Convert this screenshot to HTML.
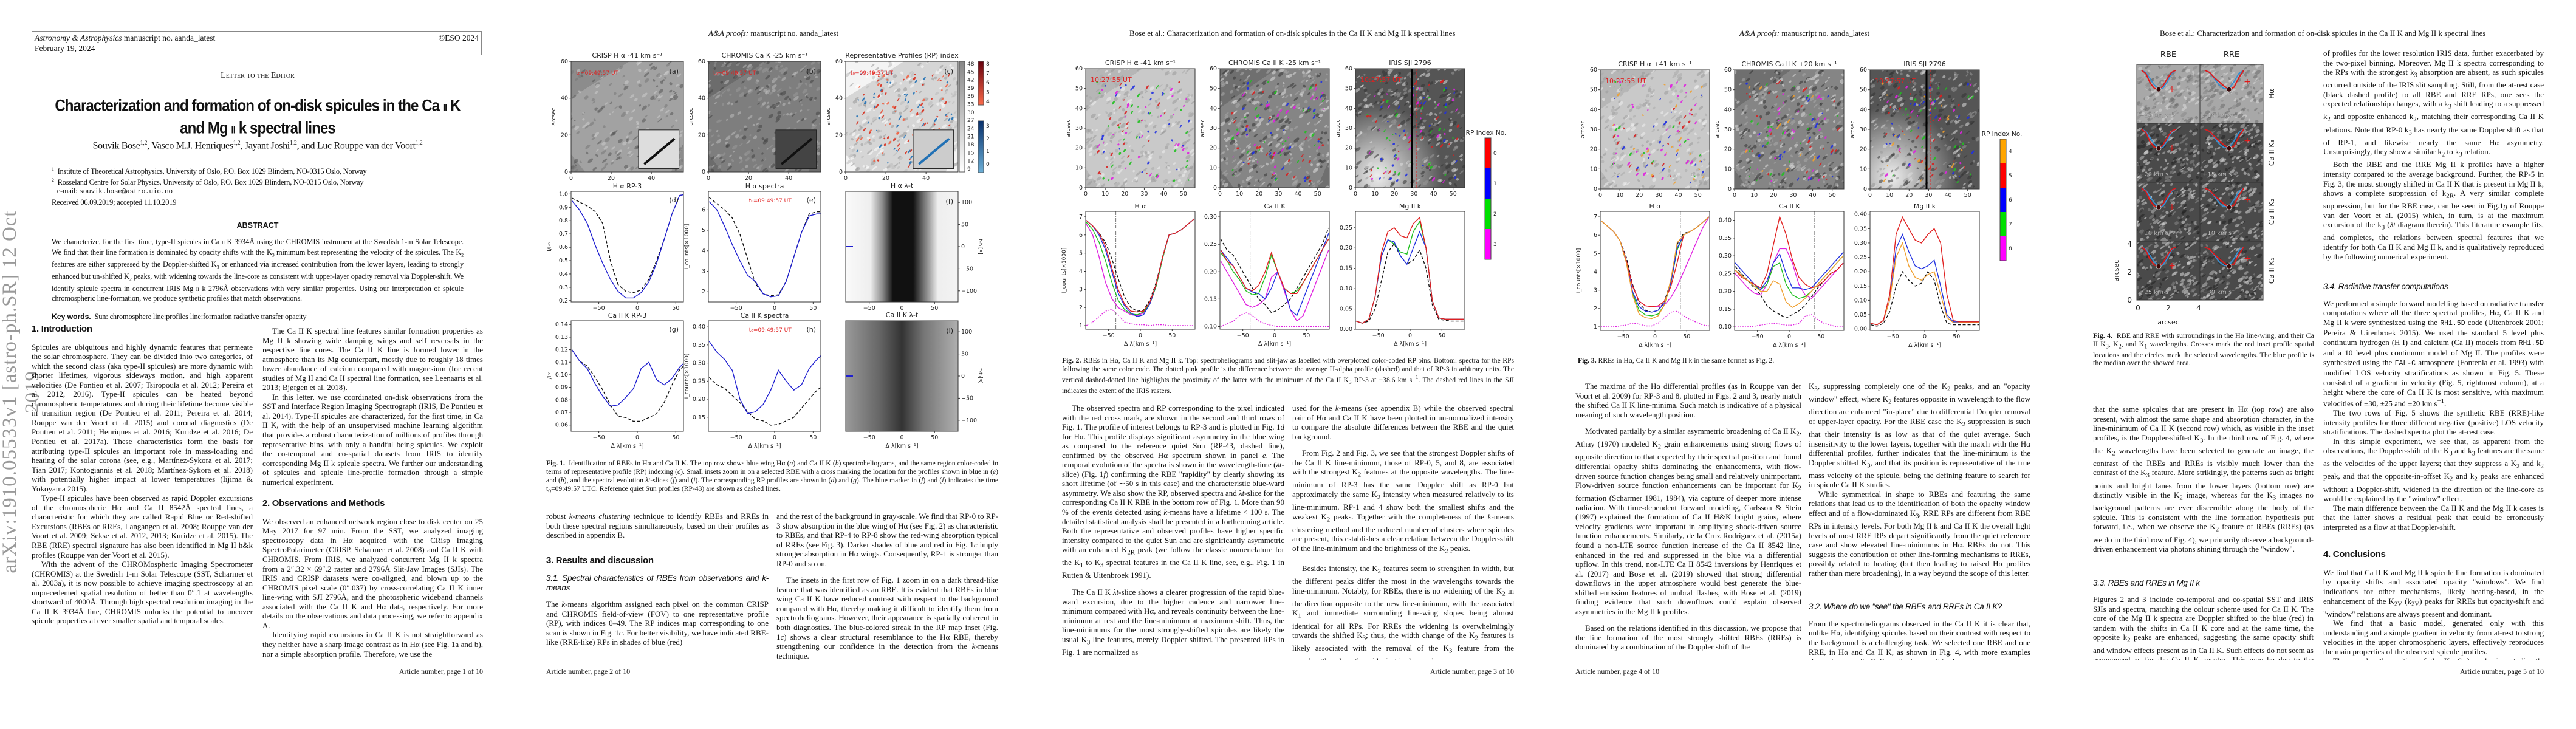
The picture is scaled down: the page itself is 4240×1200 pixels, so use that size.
<!DOCTYPE html>
<html><head><meta charset="utf-8">
<style>
body{margin:0;width:4240px;height:1200px;position:relative;background:#fff;overflow:hidden;font-family:"Liberation Serif",serif;color:#111}
.a{position:absolute}
.col{position:absolute;font-size:13px;line-height:15.55px;text-align:justify;overflow:hidden;hyphens:auto}
.col p{margin:0;text-indent:16px}
.col p.ni{text-indent:0}
.h1{font-family:"Liberation Sans",sans-serif;font-weight:bold;font-size:15px;text-indent:0;margin:20px 0 14px 0;letter-spacing:-0.3px}
.h2{font-family:"Liberation Sans",sans-serif;font-style:italic;font-size:13.5px;text-indent:0;margin:18px 0 12px 0;letter-spacing:-0.3px}
.cap{position:absolute;font-size:11.6px;line-height:14px;text-align:justify}
.hdr{position:absolute;font-size:13px;top:47px}
.foot{position:absolute;font-size:12px;top:1098px}
svg text{font-family:"DejaVu Sans",sans-serif}
</style></head>
<body>
<svg id="figs" class="a" style="left:0;top:0" width="4240" height="1200">
<defs>
<linearGradient id="lt1" x1="0" x2="1" y1="0" y2="0">
<stop offset="0" stop-color="#fafafa"/><stop offset="0.22" stop-color="#eee"/><stop offset="0.33" stop-color="#888"/><stop offset="0.42" stop-color="#111"/><stop offset="0.6" stop-color="#111"/><stop offset="0.7" stop-color="#777"/><stop offset="0.82" stop-color="#eee"/><stop offset="1" stop-color="#f4f4f4"/></linearGradient>
<linearGradient id="lt2" x1="0" x2="1" y1="0" y2="0">
<stop offset="0" stop-color="#9a9a9a"/><stop offset="0.3" stop-color="#666"/><stop offset="0.5" stop-color="#333"/><stop offset="0.7" stop-color="#777"/><stop offset="1" stop-color="#b0b0b0"/></linearGradient>
<linearGradient id="gbar" x1="0" x2="0" y1="0" y2="1"><stop offset="0" stop-color="#888"/><stop offset="1" stop-color="#fff"/></linearGradient>
<linearGradient id="redbar" x1="0" x2="0" y1="0" y2="1"><stop offset="0" stop-color="#67000d"/><stop offset="1" stop-color="#fb6a4a"/></linearGradient>
<linearGradient id="bluebar" x1="0" x2="0" y1="0" y2="1"><stop offset="0" stop-color="#08306b"/><stop offset="1" stop-color="#6baed6"/></linearGradient>
<radialGradient id="iris" cx="0.2" cy="0.9" r="0.6"><stop offset="0" stop-color="#eee"/><stop offset="1" stop-color="#555"/></radialGradient>
</defs>
</svg>

<!-- PAGE 1 -->
<div class="a" style="left:52px;top:51px;width:741px;height:40px;border:1px solid #888;font-size:13.5px;line-height:17px;padding:2px 0 0 4px;box-sizing:border-box">
<i>Astronomy &amp; Astrophysics</i> manuscript no. aanda_latest<br>February 19, 2024<span style="position:absolute;right:4px;top:2px">©ESO 2024</span></div>
<div class="a" style="left:0;width:848px;top:117px;text-align:center;font-size:14px;font-variant:small-caps">Letter to the Editor</div>
<div class="a" style="left:40px;width:768px;top:162px;text-align:center;font-family:'Liberation Sans',sans-serif;font-weight:bold;font-size:24px;line-height:30px;letter-spacing:-0.9px;transform:scaleY(1.12)">Characterization and formation of on-disk spicules in the Ca <span style="font-size:15px">II</span> K<br>and Mg <span style="font-size:15px">II</span> k spectral lines</div>
<div class="a" style="left:0;width:848px;top:230px;text-align:center;font-size:16px;letter-spacing:-0.3px">Souvik Bose<sup style="font-size:10px">1,2</sup>, Vasco M.J. Henriques<sup style="font-size:10px">1,2</sup>, Jayant Joshi<sup style="font-size:10px">1,2</sup>, and Luc Rouppe van der Voort<sup style="font-size:10px">1,2</sup></div>
<div class="a" style="left:85px;top:272px;font-size:12.4px;line-height:14.6px;letter-spacing:-0.2px"><sup style="font-size:8px">1</sup>&nbsp; Institute of Theoretical Astrophysics, University of Oslo, P.O. Box 1029 Blindern, NO-0315 Oslo, Norway<br><sup style="font-size:8px">2</sup>&nbsp; Rosseland Centre for Solar Physics, University of Oslo, P.O. Box 1029 Blindern, NO-0315 Oslo, Norway<br>&nbsp;&nbsp;&nbsp;e-mail: <span style="font-family:'Liberation Mono',monospace;font-size:11px">souvik.bose@astro.uio.no</span></div>
<div class="a" style="left:85px;top:326px;font-size:12.4px;letter-spacing:-0.2px">Received 06.09.2019; accepted 11.10.2019</div>
<div class="a" style="left:0;width:848px;top:364px;text-align:center;font-family:'Liberation Sans',sans-serif;font-weight:bold;font-size:12.5px">ABSTRACT</div>
<div class="a" style="left:85px;width:678px;top:391px;font-size:12.4px;line-height:14.6px;text-align:justify;letter-spacing:-0.15px">We characterize, for the first time, type-II spicules in Ca <span style="font-size:8px">II</span> K 3934Å using the CHROMIS instrument at the Swedish 1-m Solar Telescope. We find that their line formation is dominated by opacity shifts with the K<sub style="font-size:8px">3</sub> minimum best representing the velocity of the spicules. The K<sub style="font-size:8px">2</sub> features are either suppressed by the Doppler-shifted K<sub style="font-size:8px">3</sub> or enhanced via increased contribution from the lower layers, leading to strongly enhanced but un-shifted K<sub style="font-size:8px">2</sub> peaks, with widening towards the line-core as consistent with upper-layer opacity removal via Doppler-shift. We identify spicule spectra in concurrent IRIS Mg <span style="font-size:8px">II</span> k 2796Å observations with very similar properties. Using our interpretation of spicule chromospheric line-formation, we produce synthetic profiles that match observations.<br><br><b style="font-family:'Liberation Sans',sans-serif">Key words.</b>&nbsp; Sun: chromosphere line:profiles line:formation radiative transfer opacity</div>
<div class="a" style="left:-290px;top:608px;width:650px;text-align:center;transform:rotate(-90deg);font-size:33px;color:#999;letter-spacing:1px">arXiv:1910.05533v1 [astro-ph.SR] 12 Oct 2019</div>

<div class="col" style="left:52px;top:526px;width:364px;height:560px">
<div class="h1" style="margin-top:8px">1. Introduction</div>
<p class="ni">Spicules are ubiquitous and highly dynamic features that permeate the solar chromosphere. They can be divided into two categories, of which the second class (aka type-II spicules) are more dynamic with shorter lifetimes, vigorous sideways motion, and high apparent velocities (De Pontieu et al. 2007; Tsiropoula et al. 2012; Pereira et al. 2012, 2016). Type-II spicules can be heated beyond chromospheric temperatures and during their lifetime become visible in transition region (De Pontieu et al. 2011; Pereira et al. 2014; Rouppe van der Voort et al. 2015) and coronal diagnostics (De Pontieu et al. 2011; Henriques et al. 2016; Kuridze et al. 2016; De Pontieu et al. 2017a). These characteristics form the basis for attributing type-II spicules an important role in mass-loading and heating of the solar corona (see, e.g., Martínez-Sykora et al. 2017; Tian 2017; Kontogiannis et al. 2018; Martínez-Sykora et al. 2018) with potentially higher impact at lower temperatures (Iijima &amp; Yokoyama 2015).</p>
<p>Type-II spicules have been observed as rapid Doppler excursions of the chromospheric Hα and Ca II 8542Å spectral lines, a characteristic for which they are called Rapid Blue or Red-shifted Excursions (RBEs or RREs, Langangen et al. 2008; Rouppe van der Voort et al. 2009; Sekse et al. 2012, 2013; Kuridze et al. 2015). The RBE (RRE) spectral signature has also been identified in Mg II h&amp;k profiles (Rouppe van der Voort et al. 2015).</p>
<p>With the advent of the CHROMospheric Imaging Spectrometer (CHROMIS) at the Swedish 1-m Solar Telescope (SST, Scharmer et al. 2003a), it is now possible to achieve imaging spectroscopy at an unprecedented spatial resolution of better than 0″.1 at wavelengths shortward of 4000Å. Through high spectral resolution imaging in the Ca II K 3934Å line, CHROMIS unlocks the potential to uncover spicule properties at ever smaller spatial and temporal scales.</p>
</div>
<div class="col" style="left:432px;top:537px;width:363px;height:549px">
<p>The Ca II K spectral line features similar formation properties as Mg II k showing wide damping wings and self reversals in the respective line cores. The Ca II K line is formed lower in the atmosphere than its Mg counterpart, mostly due to roughly 18 times lower abundance of calcium compared with magnesium (for recent studies of Mg II and Ca II spectral line formation, see Leenaarts et al. 2013; Bjørgen et al. 2018).</p>
<p>In this letter, we use coordinated on-disk observations from the SST and Interface Region Imaging Spectrograph (IRIS, De Pontieu et al. 2014). Type-II spicules are characterized, for the first time, in Ca II K, with the help of an unsupervised machine learning algorithm that provides a robust characterization of millions of profiles through representative bins, with only a handful being spicules. We exploit the co-temporal and co-spatial datasets from IRIS to identify corresponding Mg II k spicule spectra. We further our understanding of spicules and spicule line-profile formation through a simple numerical experiment.</p>
<div class="h1">2. Observations and Methods</div>
<p class="ni">We observed an enhanced network region close to disk center on 25 May 2017 for 97 min. From the SST, we analyzed imaging spectroscopy data in Hα acquired with the CRisp Imaging SpectroPolarimeter (CRISP, Scharmer et al. 2008) and Ca II K with CHROMIS. From IRIS, we analyzed concurrent Mg II k spectra from a 2″.32 × 69″.2 raster and 2796Å Slit-Jaw Images (SJIs). The IRIS and CRISP datasets were co-aligned, and blown up to the CHROMIS pixel scale (0″.037) by cross-correlating Ca II K inner line-wing with SJI 2796Å, and the photospheric wideband channels associated with the Ca II K and Hα data, respectively. For more details on the observations and data processing, we refer to appendix A.</p>
<p>Identifying rapid excursions in Ca II K is not straightforward as they neither have a sharp image contrast as in Hα (see Fig. 1a and b), nor a simple absorption profile. Therefore, we use the</p>
</div>
<div class="foot" style="left:600px;width:195px;text-align:right">Article number, page 1 of 10</div>

<!-- PAGE 2 -->
<div class="hdr" style="left:1166px"><i>A&amp;A proofs:</i> manuscript no. aanda_latest</div>
<div class="cap" style="left:899px;top:756px;width:744px"><b>Fig. 1.</b>&nbsp; Identification of RBEs in Hα and Ca II K. The top row shows blue wing Hα (<i>a</i>) and Ca II K (<i>b</i>) spectroheliograms, and the same region color-coded in terms of representative profile (RP) indexing (<i>c</i>). Small insets zoom in on a selected RBE with a cross marking the location for the profiles shown in blue in (<i>e</i>) and (<i>h</i>), and the spectral evolution <i>λt</i>-slices (<i>f</i>) and (<i>i</i>). The corresponding RP profiles are shown in (<i>d</i>) and (<i>g</i>). The blue marker in (<i>f</i>) and (<i>i</i>) indicates the time t<sub>0</sub>=09:49:57 UTC. Reference quiet Sun profiles (RP-43) are shown as dashed lines.</div>
<div class="col" style="left:899px;top:842px;width:366px;height:244px">
<p class="ni">robust <i>k-means clustering</i> technique to identify RBEs and RREs in both these spectral regions simultaneously, based on their profiles as described in appendix B.</p>
<div class="h1" style="margin-top:26px">3. Results and discussion</div>
<div class="h2" style="margin-top:8px">3.1. Spectral characteristics of RBEs from observations and <i>k</i>-means</div>
<p class="ni">The <i>k</i>-means algorithm assigned each pixel on the common CRISP and CHROMIS field-of-view (FOV) to one representative profile (RP), with indices 0–49. The RP indices map corresponding to one scan is shown in Fig. 1<i>c</i>. For better visibility, we have indicated RBE-like (RRE-like) RPs in shades of blue (red)</p>
</div>
<div class="col" style="left:1278px;top:842px;width:365px;height:244px">
<p class="ni">and the rest of the background in gray-scale. We find that RP-0 to RP-3 show absorption in the blue wing of Hα (see Fig. 2) as characteristic to RBEs, and that RP-4 to RP-8 show the red-wing absorption typical of RREs (see Fig. 3). Darker shades of blue and red in Fig. 1<i>c</i> imply stronger absorption in Hα wings. Consequently, RP-1 is stronger than RP-0 and so on.</p>
<p style="margin-top:12px">The insets in the first row of Fig. 1 zoom in on a dark thread-like feature that was identified as an RBE. It is evident that RBEs in blue wing Ca II K have reduced contrast with respect to the background compared with Hα, thereby making it difficult to identify them from spectroheliograms. However, their appearance is spatially coherent in both diagnostics. The blue-colored streak in the RP map inset (Fig. 1<i>c</i>) shows a clear structural resemblance to the Hα RBE, thereby strengthening our confidence in the detection from the <i>k</i>-means technique.</p>
</div>
<div class="foot" style="left:899px">Article number, page 2 of 10</div>

<!-- PAGE 3 -->
<div class="hdr" style="left:1859px">Bose et al.: Characterization and formation of on-disk spicules in the Ca II K and Mg II k spectral lines</div>
<div class="cap" style="left:1748px;top:587px;width:744px"><b>Fig. 2.</b> RBEs in Hα, Ca II K and Mg II k. Top: spectroheliograms and slit-jaw as labelled with overplotted color-coded RP bins. Bottom: spectra for the RPs following the same color code. The dotted pink profile is the difference between the average H-alpha profile (dashed) and that of RP-3 in arbitrary units. The vertical dashed-dotted line highlights the proximity of the latter with the minimum of the Ca II K<sub>3</sub> RP-3 at −38.6 km s<sup>−1</sup>. The dashed red lines in the SJI indicates the extent of the IRIS rasters.</div>
<div class="col" style="left:1748px;top:664px;width:366px;height:422px">
<p>The observed spectra and RP corresponding to the pixel indicated with the red cross mark, are shown in the second and third rows of Fig. 1. The profile of interest belongs to RP-3 and is plotted in Fig. 1<i>d</i> for Hα. This profile displays significant asymmetry in the blue wing as compared to the reference quiet Sun (RP-43, dashed line), confirmed by the observed Hα spectrum shown in panel <i>e</i>. The temporal evolution of the spectra is shown in the wavelength-time (<i>λt</i>-slice) (Fig. 1<i>f</i>) confirming the RBE "rapidity" by clearly showing its short lifetime (of ∼50 s in this case) and the characteristic blue-ward asymmetry. We also show the RP, observed spectra and <i>λt</i>-slice for the corresponding Ca II K RBE in the bottom row of Fig. 1. More than 90 % of the events detected using <i>k</i>-means have a lifetime &lt; 100 s. The detailed statistical analysis shall be presented in a forthcoming article. Both the representative and observed profiles have higher specific intensity compared to the quiet Sun and are significantly asymmetric with an enhanced K<sub>2R</sub> peak (we follow the classic nomenclature for the K<sub>1</sub> to K<sub>3</sub> spectral features in the Ca II K line, see, e.g., Fig. 1 in Rutten &amp; Uitenbroek 1991).</p>
<p style="margin-top:12px">The Ca II K <i>λt</i>-slice shows a clearer progression of the rapid blue-ward excursion, due to the higher cadence and narrower line-minimum compared with Hα, and reveals continuity between the line-minimum at rest and the line-minimum at maximum shift. Thus, the line-minimums for the most strongly-shifted spicules are likely the usual K<sub>3</sub> line features, merely Doppler shifted. The presented RPs in Fig. 1 are normalized as</p>
</div>
<div class="col" style="left:2127px;top:664px;width:365px;height:422px">
<p class="ni">used for the <i>k</i>-means (see appendix B) while the observed spectral pair of Hα and Ca II K have been plotted in un-normalized intensity to compare the absolute differences between the RBE and the quiet background.</p>
<p style="margin-top:12px">From Fig. 2 and Fig. 3, we see that the strongest Doppler shifts of the Ca II K line-minimum, those of RP-0, 5, and 8, are associated with the strongest K<sub>2</sub> features at the opposite wavelengths. The line-minimum of RP-3 has the same Doppler shift as RP-0 but approximately the same K<sub>2</sub> intensity when measured relatively to its line-minimum. RP-1 and 4 show both the smallest shifts and the weakest K<sub>2</sub> peaks. Together with the completeness of the <i>k</i>-means clustering method and the reduced number of clusters where spicules are present, this establishes a clear relation between the Doppler-shift of the line-minimum and the brightness of the K<sub>2</sub> peaks.</p>
<p style="margin-top:12px">Besides intensity, the K<sub>2</sub> features seem to strengthen in width, but the different peaks differ the most in the wavelengths towards the line-minimum. Notably, for RBEs, there is no widening of the K<sub>2</sub> in the direction opposite to the new line-minimum, with the associated K<sub>1</sub> and immediate surrounding line-wing slopes being almost identical for all RPs. For RREs the widening is overwhelmingly towards the shifted K<sub>3</sub>; thus, the width change of the K<sub>2</sub> features is likely associated with the removal of the K<sub>3</sub> feature from the wavelengths where the widening is observed.</p>
</div>
<div class="foot" style="left:2300px;width:192px;text-align:right">Article number, page 3 of 10</div>

<!-- PAGE 4 -->
<div class="hdr" style="left:2863px"><i>A&amp;A proofs:</i> manuscript no. aanda_latest</div>
<div class="cap" style="left:2597px;top:587px;width:744px"><b>Fig. 3.</b> RREs in Hα, Ca II K and Mg II k in the same format as Fig. 2.</div>
<div class="col" style="left:2593px;top:628px;width:372px;height:458px">
<p>The maxima of the Hα differential profiles (as in Rouppe van der Voort et al. 2009) for RP-3 and 8, plotted in Figs. 2 and 3, nearly match the shifted Ca II K line-minima. Such match is indicative of a physical meaning of such wavelength position.</p>
<p style="margin-top:12px">Motivated partially by a similar asymmetric broadening of Ca II K<sub>2</sub>, Athay (1970) modeled K<sub>2</sub> grain enhancements using strong flows of opposite direction to that expected by their spectral position and found differential opacity shifts dominating the enhancements, with flow-driven source function changes being small and relatively unimportant. Flow-driven source function enhancements can be important for K<sub>2</sub> formation (Scharmer 1981, 1984), via capture of deeper more intense radiation. With time-dependent forward modeling, Carlsson &amp; Stein (1997) explained the formation of Ca II H&amp;K bright grains, where velocity gradients were important in amplifying shock-driven source function enhancements. Similarly, de la Cruz Rodríguez et al. (2015a) found a non-LTE source function increase of the Ca II 8542 line, enhanced in the red and suppressed in the blue via a differential upflow. In this trend, non-LTE Ca II 8542 inversions by Henriques et al. (2017) and Bose et al. (2019) showed that strong differential downflows in the upper atmosphere would best generate the blue-shifted emission features of umbral flashes, with Bose et al. (2019) finding evidence that such downflows could explain observed asymmetries in the Mg II k profiles.</p>
<p style="margin-top:12px">Based on the relations identified in this discussion, we propose that the line formation of the most strongly shifted RBEs (RREs) is dominated by a combination of the Doppler shift of the</p>
</div>
<div class="col" style="left:2977px;top:628px;width:365px;height:458px">
<p class="ni">K<sub>3</sub>, suppressing completely one of the K<sub>2</sub> peaks, and an "opacity window" effect, where K<sub>2</sub> features opposite in wavelength to the flow direction are enhanced "in-place" due to differential Doppler removal of upper-layer opacity. For the RBE case the K<sub>2</sub> suppression is such that their intensity is as low as that of the quiet average. Such insensitivity to the lower layers, together with the match with the Hα differential profiles, further indicates that the line-minimum is the Doppler shifted K<sub>3</sub>, and that its position is representative of the true mass velocity of the spicule, being the defining feature to search for in spicule Ca II K studies.</p>
<p>While symmetrical in shape to RBEs and featuring the same relations that lead us to the identification of both the opacity window effect and of a flow-dominated K<sub>3</sub>, RRE RPs are different from RBE RPs in intensity levels. For both Mg II k and Ca II K the overall light levels of most RRE RPs depart significantly from the quiet reference case and show elevated line-minimums in Hα. RBEs do not. This suggests the contribution of other line-forming mechanisms to RREs, possibly related to heating (but then leading to raised Hα profiles rather than mere broadening), in a way beyond the scope of this letter.</p>
<div class="h2" style="margin-top:40px">3.2. Where do we "see" the RBEs and RREs in Ca II K?</div>
<p class="ni">From the spectroheliograms observed in the Ca II K it is clear that, unlike Hα, identifying spicules based on their contrast with respect to the background is a challenging task. We selected one RBE and one RRE, in Hα and Ca II K, as shown in Fig. 4, with more examples shown in appendix C. From the former, it is clear</p>
</div>
<div class="foot" style="left:2593px">Article number, page 4 of 10</div>

<!-- PAGE 5 -->
<div class="hdr" style="left:3555px">Bose et al.: Characterization and formation of on-disk spicules in the Ca II K and Mg II k spectral lines</div>
<div class="cap" style="left:3445px;top:546px;width:364px;font-size:12px;line-height:13.6px"><b>Fig. 4.</b>&nbsp; RBE and RRE with surroundings in the Hα line-wing, and their Ca II K<sub>3</sub>, K<sub>2</sub>, and K<sub>1</sub> wavelengths. Crosses mark the red inset profile spatial locations and the circles mark the selected wavelengths. The blue profile is the median over the showed area.</div>
<div class="col" style="left:3445px;top:666px;width:363px;height:420px">
<p class="ni">that the same spicules that are present in Hα (top row) are also present, with almost the same shape and absorption character, in the line-minimum of Ca II K (second row) which, as visible in the inset profiles, is the Doppler-shifted K<sub>3</sub>. In the third row of Fig. 4, where the K<sub>2</sub> wavelengths have been selected to generate an image, the contrast of the RBEs and RREs is visibly much lower than the contrast of the K<sub>3</sub> feature. More strikingly, the patterns such as bright points and bright lanes from the lower layers (bottom row) are distinctly visible in the K<sub>2</sub> image, whereas for the K<sub>3</sub> images no background patterns are ever discernible along the body of the spicule. This is consistent with the line formation hypothesis put forward, i.e., when we observe the K<sub>2</sub> feature of RBEs (RREs) (as we do in the third row of Fig. 4), we primarily observe a background-driven enhancement via photons shining through the "window".</p>
<div class="h2" style="margin-top:40px">3.3. RBEs and RREs in Mg II k</div>
<p class="ni">Figures 2 and 3 include co-temporal and co-spatial SST and IRIS SJIs and spectra, matching the colour scheme used for Ca II K. The core of the Mg II k spectra are Doppler shifted to the blue (red) in tandem with the shifts in Ca II K core and at the same time, the opposite k<sub>2</sub> peaks are enhanced, suggesting the same opacity shift and window effects present as in Ca II K. Such effects do not seem as pronounced as for the Ca II K spectra. This may be due to the slenderness of the spicules, leading to mixing</p>
</div>
<div class="col" style="left:3824px;top:80px;width:363px;height:1006px">
<p class="ni">of profiles for the lower resolution IRIS data, further exacerbated by the two-pixel binning. Moreover, Mg II k spectra corresponding to the RPs with the strongest k<sub>3</sub> absorption are absent, as such spicules occurred outside of the IRIS slit sampling. Still, from the at-rest case (black dashed profile) to all RBE and RRE RPs, one sees the expected relationship changes, with a k<sub>3</sub> shift leading to a suppressed k<sub>2</sub> and opposite enhanced k<sub>2</sub>, matching their corresponding Ca II K relations. Note that RP-0 k<sub>3</sub> has nearly the same Doppler shift as that of RP-1, and likewise nearly the same Hα asymmetry. Unsurprisingly, they show a similar k<sub>2</sub> to k<sub>3</sub> relation.</p>
<p>Both the RBE and the RRE Mg II k profiles have a higher intensity compared to the average background. Further, the RP-5 in Fig. 3, the most strongly shifted in Ca II K that is present in Mg II k, shows a complete suppression of k<sub>2R</sub>. A very similar complete suppression, but for the RBE case, can be seen in Fig.1<i>g</i> of Rouppe van der Voort et al. (2015) which, in turn, is at the maximum excursion of the k<sub>3</sub> (<i>λt</i> diagram therein). This literature example fits, and completes, the relations between spectral features that we identify for both Ca II K and Mg II k, and is qualitatively reproduced by the following numerical experiment.</p>
<div class="h2" style="margin-top:34px">3.4. Radiative transfer computations</div>
<p class="ni">We performed a simple forward modelling based on radiative transfer computations where all the three spectral profiles, Hα, Ca II K and Mg II k were synthesized using the <span style="font-family:'Liberation Mono',monospace;font-size:11.5px">RH1.5D</span> code (Uitenbroek 2001; Pereira &amp; Uitenbroek 2015). We used the standard 5 level plus continuum hydrogen (H I) and calcium (Ca II) models from <span style="font-family:'Liberation Mono',monospace;font-size:11.5px">RH1.5D</span> and a 10 level plus continuum model of Mg II. The profiles were synthesized using the <span style="font-family:'Liberation Mono',monospace;font-size:11.5px">FAL-C</span> atmosphere (Fontenla et al. 1993) with modified LOS velocity stratifications as shown in Fig. 5. These consisted of a gradient in velocity (Fig. 5, rightmost column), at a height where the core of Ca II K is most sensitive, with maximum velocities of ±30, ±25 and ±20 km s<sup>−1</sup>.</p>
<p>The two rows of Fig. 5 shows the synthetic RBE (RRE)-like intensity profiles for three different negative (positive) LOS velocity stratifications. The dashed spectra plot the at-rest case.</p>
<p>In this simple experiment, we see that, as apparent from the observations, the Doppler-shift of the K<sub>3</sub> and k<sub>3</sub> features are the same as the velocities of the upper layers; that they suppress a K<sub>2</sub> and k<sub>2</sub> peak, and that the opposite-in-offset K<sub>2</sub> and k<sub>2</sub> peaks are enhanced without a Doppler-shift, widened in the direction of the line-core as would be explained by the "window" effect.</p>
<p>The main difference between the Ca II K and the Mg II k cases is that the latter shows a residual peak that could be erroneously interpreted as a flow at that Doppler-shift.</p>
<div class="h1" style="margin-top:30px">4. Conclusions</div>
<p class="ni">We find that Ca II K and Mg II k spicule line formation is dominated by opacity shifts and associated opacity "windows". We find indications for other mechanisms, likely heating-based, in the enhancement of the K<sub>2V</sub> (k<sub>2V</sub>) peaks for RREs but opacity-shift and "window" relations are always present and dominant.</p>
<p>We find that a basic model, generated only with this understanding and a simple gradient in velocity from at-rest to strong velocities in the upper chromospheric layers, effectively reproduces the main properties of the observed spicule profiles.</p>
<p>The wavelength position of the K<sub>2</sub> (k<sub>2</sub>) peaks is not directly usable as a velocity diagnostic for spicules. In practical terms, the Doppler shift of the K<sub>3</sub> (k<sub>3</sub>) features provides an accurate velocity measure, one consistent across multiple lines. The spicule</p>
</div>
<div class="foot" style="left:3990px;width:197px;text-align:right">Article number, page 5 of 10</div>

<script>
// ===== chart data =====
const vel = [-85,-75,-65,-55,-45,-35,-25,-15,-5,5,15,25,35,45,55,65,75,85];
const f1dRP3 = [0.95,0.88,0.78,0.62,0.48,0.36,0.27,0.22,0.22,0.26,0.34,0.48,0.66,0.85,0.99,1.0,1.0,1.0];
const f1dRef = [0.97,0.94,0.91,0.87,0.78,0.50,0.32,0.27,0.26,0.28,0.36,0.50,0.66,0.85,0.99,1.0,1.0,1.0];
const f1dYTicks = [0.2,0.3,0.4,0.5,0.6,0.7,0.8,0.9,1.0];
const f1eObs = [6.4,6.0,5.2,4.3,3.5,2.8,2.5,1.9,1.75,1.8,2.5,3.7,4.9,5.7,5.8,5.8,5.8,5.8];
const f1eRef = [6.6,6.3,6.0,5.6,4.8,3.6,2.4,1.9,1.8,1.85,2.5,3.7,4.9,5.8,5.9,5.9,5.9,5.9];
const f1eYTicks = [2,3,4,5,6];
const f1gRP3 = [0.12,0.111,0.105,0.093,0.083,0.075,0.076,0.082,0.089,0.105,0.110,0.096,0.092,0.097,0.106,0.112,0.115,0.118];
const f1gRef = [0.12,0.111,0.107,0.098,0.088,0.076,0.067,0.066,0.063,0.063,0.066,0.069,0.078,0.092,0.104,0.110,0.114,0.118];
const f1gYTicks = [0.06,0.07,0.08,0.09,0.10,0.11,0.12,0.13,0.14];
const f1hObs = [0.36,0.33,0.31,0.28,0.20,0.16,0.165,0.185,0.225,0.28,0.25,0.225,0.24,0.285,0.31,0.33,0.34,0.34];
const f1hRef = [0.26,0.24,0.23,0.21,0.19,0.165,0.145,0.14,0.128,0.13,0.14,0.15,0.175,0.20,0.225,0.24,0.25,0.26];
const f1hYTicks = [0.15,0.20,0.25,0.30,0.35,0.40];
const velTicks = [-50,0,50];
const tTicks = [100,50,0,-50,-100];
const arcTicks1 = [0,20,40,60];
const arcTicks2 = [0,10,20,30,40,50,60];
const f2HaRef = [6.8,6.5,6.1,5.6,4.7,3.6,2.6,2.0,1.8,1.85,2.4,3.4,4.8,6.0,6.1,6.3,6.6,6.9];
const f2HaRP0 = [6.8,6.5,6.1,5.4,4.2,3.0,2.2,1.8,1.75,1.8,2.3,3.3,4.8,6.0,6.1,6.3,6.6,6.9];
const f2HaRP1 = [6.8,6.5,6.0,5.2,4.0,2.8,2.1,1.7,1.5,1.6,2.2,3.3,4.8,6.0,6.1,6.3,6.6,6.9];
const f2HaRP2 = [6.7,6.3,5.6,4.6,3.4,2.4,1.9,1.65,1.6,1.75,2.2,3.2,4.7,6.0,6.1,6.3,6.6,6.9];
const f2HaRP3 = [6.6,6.0,4.8,3.4,2.5,2.0,1.8,1.6,1.55,1.7,2.2,3.2,4.7,6.0,6.1,6.3,6.6,6.9];
const f2HaDiff = [1.0,1.2,1.5,1.8,1.9,1.6,1.2,1.1,1.05,1.05,1.0,1.05,1.05,1.0,1.0,1.0,1.0,1.0];
const f2HaYTicks = [1,2,3,4,5,6,7];
const f2CaRef = [0.26,0.24,0.23,0.21,0.19,0.17,0.15,0.14,0.125,0.13,0.14,0.15,0.17,0.19,0.21,0.23,0.25,0.28];
const f2CaRP0 = [0.24,0.22,0.21,0.19,0.17,0.165,0.175,0.20,0.235,0.20,0.17,0.16,0.16,0.18,0.20,0.22,0.24,0.26];
const f2CaRP1 = [0.24,0.225,0.21,0.19,0.17,0.163,0.16,0.15,0.17,0.20,0.17,0.13,0.12,0.15,0.18,0.21,0.24,0.27];
const f2CaRP2 = [0.235,0.22,0.20,0.185,0.165,0.158,0.16,0.19,0.23,0.20,0.17,0.16,0.165,0.18,0.20,0.22,0.24,0.26];
const f2CaRP3 = [0.22,0.20,0.18,0.16,0.14,0.135,0.14,0.15,0.19,0.20,0.165,0.13,0.11,0.12,0.15,0.18,0.21,0.24];
const f2CaDiff = [0.10,0.105,0.11,0.12,0.125,0.12,0.11,0.105,0.102,0.10,0.10,0.10,0.10,0.10,0.10,0.10,0.10,0.10];
const f2CaYTicks = [0.10,0.15,0.20,0.25,0.30];
const f2MgRef = [0.02,0.015,0.02,0.05,0.12,0.19,0.21,0.18,0.16,0.17,0.195,0.15,0.06,0.025,0.022,0.02,0.02,0.02];
const f2MgRP0 = [0.02,0.015,0.025,0.08,0.19,0.24,0.25,0.23,0.225,0.26,0.275,0.20,0.07,0.028,0.025,0.025,0.025,0.025];
const f2MgRP1 = [0.02,0.015,0.025,0.08,0.18,0.22,0.215,0.18,0.16,0.20,0.24,0.20,0.07,0.028,0.025,0.025,0.025,0.025];
const f2MgRP2 = [0.02,0.015,0.025,0.08,0.18,0.22,0.21,0.19,0.185,0.24,0.265,0.20,0.07,0.028,0.025,0.025,0.025,0.025];
const f2MgYTicks = [0.00,0.05,0.10,0.15,0.20,0.25];
const f3HaRef = [6.8,6.5,6.2,5.7,4.8,3.3,2.3,1.9,1.8,1.9,2.4,3.5,5.5,6.1,6.2,6.4,6.7,7.0];
const f3HaRP4 = [6.8,6.5,6.2,5.7,4.5,2.7,1.7,1.5,1.45,1.6,2.2,3.6,5.6,6.0,6.2,6.4,6.7,7.0];
const f3HaRP5 = [6.8,6.5,6.2,5.7,4.6,3.2,2.4,2.15,2.1,2.15,2.4,3.2,4.5,6.0,6.2,6.4,6.7,7.0];
const f3HaRP6 = [6.8,6.5,6.2,5.7,4.5,2.9,2.1,1.85,1.8,1.9,2.3,3.4,5.3,6.0,6.2,6.4,6.7,7.0];
const f3HaRP7 = [6.8,6.5,6.2,5.7,4.5,2.8,1.9,1.65,1.6,1.7,2.2,3.4,5.2,6.0,6.2,6.4,6.7,7.0];
const f3HaRP8 = [6.8,6.5,6.2,5.7,4.6,3.2,2.4,2.15,2.1,2.1,2.2,2.6,3.2,4.0,4.8,5.6,6.4,7.0];
const f3HaDiff = [1.0,1.0,1.0,1.05,1.1,1.2,1.15,1.05,1.05,1.2,1.5,1.8,1.85,1.6,1.4,1.25,1.1,1.05];
const f3CaRef = [0.27,0.25,0.23,0.21,0.19,0.16,0.145,0.135,0.125,0.135,0.145,0.16,0.185,0.21,0.23,0.25,0.26,0.28];
const f3CaRP4 = [0.26,0.245,0.23,0.215,0.20,0.20,0.23,0.22,0.17,0.155,0.165,0.18,0.20,0.22,0.24,0.26,0.28,0.30];
const f3CaRP5 = [0.26,0.24,0.23,0.22,0.21,0.25,0.33,0.41,0.36,0.29,0.24,0.22,0.21,0.215,0.23,0.25,0.26,0.28];
const f3CaRP6 = [0.28,0.26,0.24,0.22,0.205,0.23,0.28,0.305,0.25,0.21,0.21,0.205,0.21,0.23,0.25,0.27,0.29,0.31];
const f3CaRP7 = [0.26,0.245,0.23,0.215,0.205,0.22,0.27,0.28,0.22,0.19,0.18,0.185,0.20,0.22,0.24,0.26,0.28,0.30];
const f3CaRP8 = [0.25,0.23,0.21,0.195,0.19,0.22,0.28,0.32,0.32,0.28,0.22,0.19,0.18,0.20,0.22,0.24,0.26,0.28];
const f3CaDiff = [0.10,0.10,0.10,0.102,0.105,0.108,0.11,0.108,0.105,0.105,0.11,0.13,0.135,0.12,0.11,0.105,0.10,0.10];
const f3CaYTicks = [0.10,0.15,0.20,0.25,0.30,0.35,0.40];
const f3MgRef = [0.015,0.01,0.02,0.06,0.15,0.20,0.17,0.15,0.16,0.20,0.17,0.08,0.02,0.015,0.015,0.015,0.015,0.015];
const f3MgRP4 = [0.02,0.015,0.03,0.10,0.25,0.30,0.22,0.18,0.17,0.19,0.20,0.12,0.04,0.022,0.022,0.022,0.022,0.022];
const f3MgRP5 = [0.02,0.015,0.03,0.12,0.33,0.39,0.35,0.31,0.30,0.33,0.35,0.30,0.12,0.03,0.025,0.025,0.025,0.025];
const f3MgRP6 = [0.02,0.015,0.03,0.10,0.28,0.33,0.27,0.22,0.21,0.22,0.24,0.15,0.05,0.025,0.025,0.025,0.025,0.025];
const f3MgYTicks = [0.00,0.05,0.10,0.15,0.20,0.25,0.30,0.35,0.40];
const f4Median = [0.95,0.85,0.55,0.25,0.08,0.10,0.40,0.80,0.95];
const f4Rbe    = [0.95,0.80,0.35,0.10,0.05,0.20,0.55,0.85,0.95];
const f4Rre    = [0.95,0.85,0.60,0.40,0.20,0.05,0.15,0.60,0.95];
const f4Labels = ["\u221223 km s\u207b\u00b9","+18 km s\u207b\u00b9","\u221220 km s\u207b\u00b9","+15 km s\u207b\u00b9","+10 km s\u207b\u00b9","\u221210 km s\u207b\u00b9","+25 km s\u207b\u00b9","\u221230 km s\u207b\u00b9"];
const f4Rows = ["H\u03b1","Ca II K\u2083","Ca II K\u2082","Ca II K\u2081"];

// ===== drawing helpers =====
const NS = 'http://www.w3.org/2000/svg';
const root = document.getElementById('figs');
function mk(tag, attrs, parent){ const e=document.createElementNS(NS,tag); for(const k in attrs) e.setAttribute(k,attrs[k]); (parent||root).appendChild(e); return e; }
function txt(s, x, y, size, anchor, parent, extra){ const t=mk('text',Object.assign({x:x,y:y,'font-size':size,'text-anchor':anchor||'middle',fill:'#222'},extra||{}),parent); t.textContent=s; return t; }
let clipId=0, seed=12345;
function rnd(){ seed=(seed*1103515245+12345)%2147483648; return seed/2147483648; }

function plot(name, x, y, w, h, xd, yd, yTicks, yDec, series, opts){
  opts=opts||{};
  const g=mk('g',{});
  
  
  const sx=v=>x+(v-xd[0])/(xd[1]-xd[0])*w;
  const sy=v=>y+h-(v-yd[0])/(yd[1]-yd[0])*h;
  const cid='c'+(clipId++);
  const cp=mk('clipPath',{id:cid},g); mk('rect',{x:x,y:y,width:w,height:h},cp);
  mk('rect',{x:x,y:y,width:w,height:h,fill:'#fff'},g);
  if(opts.vline!==undefined) mk('line',{x1:sx(opts.vline),x2:sx(opts.vline),y1:y,y2:y+h,stroke:'#777','stroke-dasharray':'6,2,1,2','stroke-width':1},g);
  const sg=mk('g',{'clip-path':'url(#'+cid+')'},g);
  series.forEach(s=>{
    const d=s[0].map((v,i)=>(i?'L':'M')+sx(vel[i]).toFixed(1)+','+sy(v).toFixed(1)).join('');
    const p=mk('path',{d:d,fill:'none',stroke:s[1],'stroke-width':1.4,'stroke-dasharray':s[2]||'none'},sg);
    
    
  });
  mk('rect',{x:x,y:y,width:w,height:h,fill:'none',stroke:'#333','stroke-width':1},g);
  velTicks.forEach(v=>{ if(v<xd[0]||v>xd[1])return; mk('line',{x1:sx(v),x2:sx(v),y1:y+h,y2:y+h+3,stroke:'#333'},g); txt(v<0?'\u2212'+(-v):String(v),sx(v),y+h+13,9.5,'middle',g); });
  yTicks.forEach(v=>{ mk('line',{x1:x-3,x2:x,y1:sy(v),y2:sy(v),stroke:'#333'},g); txt(v.toFixed(yDec),x-5,sy(v)+3,9.5,'end',g); });
  if(opts.xlabel) txt('\u0394 \u03bb[km s\u207b\u00b9]',x+w/2,y+h+27,9.5,'middle',g);
  if(opts.ylabel) txt(opts.ylabel,0,0,9,'middle',g,{transform:'translate('+(x-33)+','+(y+h/2)+') rotate(-90)'});
  if(opts.title) txt(opts.title,x+w/2,y-5,11,'middle',g);
  if(opts.tag) txt(opts.tag,x+w-8,y+18,11,'end',g);
  if(opts.time) txt(opts.time,x+w*0.55,y+18,9,'middle',g,{fill:'#e02020'});
  return g;
}

function image(name, x, y, w, h, o){
  const g=mk('g',{});
  
  
  const cid='c'+(clipId++);
  const cp=mk('clipPath',{id:cid},g); mk('rect',{x:x,y:y,width:w,height:h},cp);
  const ig=mk('g',{'clip-path':'url(#'+cid+')'},g);
  mk('rect',{x:x,y:y,width:w,height:h,fill:o.bg},ig);
  if(o.dia){ const pts=[[0,0.33],[0.55,-0.02],[1.02,-0.02],[1.02,0.72],[0.88,1.02],[0.14,1.02],[0,0.84]].map(p=>(x+p[0]*w)+','+(y+p[1]*h)).join(' ');
    mk('polygon',{points:pts,fill:o.dia},ig); }
  for(let i=0;i<(o.n||0);i++){ const cx=x+rnd()*w, cy=y+rnd()*h; const c=o.tex[Math.floor(rnd()*o.tex.length)];
    mk('ellipse',{cx:cx,cy:cy,rx:1.5+rnd()*4,ry:1+rnd()*2,fill:c,opacity:0.55,transform:'rotate('+(o.rot||-40)+' '+cx+' '+cy+')'},ig); }
  if(o.spk) for(let i=0;i<o.nspk;i++){ const cx=x+0.1*w+rnd()*0.85*w, cy=y+0.1*h+rnd()*0.85*h; const c=o.spk[Math.floor(rnd()*o.spk.length)];
    mk('ellipse',{cx:cx,cy:cy,rx:1+rnd()*3,ry:0.8+rnd()*1,fill:c,opacity:0.9,transform:'rotate(-55 '+cx+' '+cy+')'},ig); }
  mk('rect',{x:x,y:y,width:w,height:h,fill:'none',stroke:'#333','stroke-width':1},g);
  if(o.ticks){ o.ticks.forEach(v=>{ const py=y+h-v/60*h; if(py<y-1)return; mk('line',{x1:x-3,x2:x,y1:py,y2:py,stroke:'#333'},g); txt(String(v),x-5,py+3,9.5,'end',g);
      const px=x+v/56*w; if(px<=x+w&&v<60){ mk('line',{x1:px,x2:px,y1:y+h,y2:y+h+3,stroke:'#333'},g); txt(String(v),px,y+h+13,9.5,'middle',g);} });
    txt('arcsec',0,0,9,'middle',g,{transform:'translate('+(x-26)+','+(y+h/2)+') rotate(-90)'}); }
  if(o.title) txt(o.title,x+w/2,y-6,11,'middle',g);
  if(o.time) txt(o.time,x+8,y+22,o.tsize||9,'start',g,{fill:'#e02020'});
  if(o.tag) txt(o.tag,x+w-8,y+20,11,'end',g);
  return g;
}

// ===== Figure 1 =====
const c1=[940,1166,1392], r1=[101,315,528], W1=185, H1=182;
image('fig1-panel-a-halpha',c1[0],r1[0],W1,H1,{bg:'#8c8c8c',dia:'#a2a2a2',tex:['#555','#ccc','#777'],n:220,ticks:arcTicks1,title:'CRISP H \u03b1 -41 km s\u207b\u00b9',time:'t\u2080=09:49:57 UT',tag:'(a)'});
image('fig1-panel-b-cak',c1[1],r1[0],W1,H1,{bg:'#6c6c6c',dia:'#7e7e7e',tex:['#444','#bbb','#999'],n:320,ticks:arcTicks1,title:'CHROMIS Ca K -25 km s\u207b\u00b9',time:'t\u2080=09:49:57 UT',tag:'(b)'});
image('fig1-panel-c-rp-map',c1[2],r1[0],W1,H1,{bg:'#f4f4f4',dia:'#d6d6d6',tex:['#999','#fff','#bbb'],n:260,spk:['#d7301f','#2171b5','#ef6548'],nspk:160,ticks:arcTicks1,title:'Representative Profiles (RP) index',time:'t\u2080=09:49:57 UT',tag:'(c)'});
[[c1[0],'#ddd'],[c1[1],'#444'],[c1[2],'#ccc']].forEach((c,i)=>{ const r=mk('rect',{x:c[0]+W1*0.6,y:r1[0]+H1*0.62,width:W1*0.36,height:H1*0.35,fill:c[1],stroke:'#222'});
  
  
  mk('line',{x1:c[0]+W1*0.65,y1:r1[0]+H1*0.93,x2:c[0]+W1*0.92,y2:r1[0]+H1*0.7,stroke:i==2?'#2171b5':'#111','stroke-width':4}); });
const cbG=mk('rect',{x:1579,y:101,width:9,height:182,fill:'url(#gbar)',stroke:'#555'});


const cbR=mk('rect',{x:1610,y:101,width:9,height:72,fill:'url(#redbar)',stroke:'#555'});


const cbB=mk('rect',{x:1610,y:199,width:9,height:85,fill:'url(#bluebar)',stroke:'#555'});


[48,45,42,39,36,33,30,27,24,21,18,15,12,9].forEach((v,i)=>txt(String(v),1592,108+i*13.3,9,'start'));
[8,7,6,5,4].forEach((v,i)=>txt(String(v),1623,108+i*15.5,9,'start'));
[3,2,1,0].forEach((v,i)=>txt(String(v),1623,210+i*21,9,'start'));

plot('fig1-panel-d-halpha-rp3',c1[0],r1[1],W1,H1,[-86,60],[0.19,1.02],f1dYTicks,1,[[f1dRef,'#111','5,3','reference-profile'],[f1dRP3,'#1f1fd0','','rp3-profile']],{title:'H \u03b1 RP-3',tag:'(d)',ylabel:'I/I\u221e'});
plot('fig1-panel-e-halpha-spectra',c1[1],r1[1],W1,H1,[-86,60],[1.5,6.9],f1eYTicks,0,[[f1eRef,'#111','5,3','reference-spectrum'],[f1eObs,'#1f1fd0','','observed-spectrum']],{title:'H \u03b1 spectra',tag:'(e)',time:'t\u2080=09:49:57 UT',ylabel:'I_counts[\u00d71000]'});
plot('fig1-panel-g-cak-rp3',c1[0],r1[2],W1,H1,[-86,60],[0.055,0.143],f1gYTicks,2,[[f1gRef,'#111','5,3','reference-profile'],[f1gRP3,'#1f1fd0','','rp3-profile']],{title:'Ca II K RP-3',tag:'(g)',xlabel:1,ylabel:'I/I\u221e'});
plot('fig1-panel-h-cak-spectra',c1[1],r1[2],W1,H1,[-86,60],[0.111,0.417],f1hYTicks,2,[[f1hRef,'#111','5,3','reference-spectrum'],[f1hObs,'#1f1fd0','','observed-spectrum']],{title:'Ca II  K spectra',tag:'(h)',time:'t\u2080=09:49:57 UT',xlabel:1,ylabel:'I_counts[\u00d71000]'});
[[r1[1],'url(#lt1)','H \u03b1 \u03bb-t','(f)','fig1-panel-f-halpha-lambda-t'],[r1[2],'url(#lt2)','Ca II K \u03bb-t','(i)','fig1-panel-i-cak-lambda-t']].forEach(p=>{
  const g=image(p[4],c1[2],p[0],W1,H1,{bg:p[1],n:0,title:p[2],tag:p[3]});
  const sx=v=>c1[2]+(v+86)/(86+86)*W1;
  velTicks.forEach(v=>{ mk('line',{x1:sx(v),x2:sx(v),y1:p[0]+H1,y2:p[0]+H1+3,stroke:'#333'},g); txt(v<0?'\u2212'+(-v):String(v),sx(v),p[0]+H1+13,9.5,'middle',g); });
  tTicks.forEach(v=>{ const py=p[0]+H1/2-v/250*H1; mk('line',{x1:c1[2]+W1,x2:c1[2]+W1+3,y1:py,y2:py,stroke:'#333'},g); txt(v<0?'\u2212'+(-v):String(v),c1[2]+W1+5,py+3,9.5,'start',g); });
  mk('line',{x1:c1[2],x2:c1[2]+12,y1:p[0]+H1/2,y2:p[0]+H1/2,stroke:'#1f1fd0','stroke-width':2},g);
  txt('t-t\u2080[s]',0,0,9,'middle',g,{transform:'translate('+(c1[2]+W1+34)+','+(p[0]+H1/2)+') rotate(90)'});
  if(p[3]=='(i)') txt('\u0394 \u03bb[km s\u207b\u00b9]',c1[2]+W1/2,p[0]+H1+27,9.5,'middle',g);
});

// ===== Figure 2 & 3 =====
function spectroRow(prefix, cols, ry, tH, tS, labels, spk){
  image(prefix+'-halpha-image',cols[0],ry,180,196,{bg:'#b6b6b6',dia:'#c9c9c9',tex:['#999','#eee','#aaa'],n:260,spk:spk,nspk:110,ticks:arcTicks2,title:labels[0],time:tH,tsize:11});
  image(prefix+'-cak-image',cols[1],ry,180,196,{bg:'#6f6f6f',dia:'#858585',tex:['#333','#ddd','#aaa'],n:380,spk:spk,nspk:110,ticks:arcTicks2,title:labels[1]});
  const g=image(prefix+'-iris-sji',cols[2],ry,180,196,{bg:'url(#iris)',tex:['#333','#ddd','#999'],n:320,spk:spk,nspk:110,ticks:arcTicks2,title:labels[2],time:tS,tsize:11});
  mk('line',{x1:cols[2]+93,x2:cols[2]+93,y1:ry,y2:ry+196,stroke:'#000','stroke-width':3},g);
  mk('line',{x1:cols[2]+100,x2:cols[2]+100,y1:ry,y2:ry+196,stroke:'#e02020','stroke-dasharray':'4,2'},g);
}
const c2=[1787,2008,2231];
spectroRow('fig2',c2,113,'10:27:55 UT','10:27:57 UT',['CRISP H \u03b1 -41 km s\u207b\u00b9','CHROMIS Ca II K -25 km s\u207b\u00b9','IRIS SJI 2796'],['#d62020','#2030e0','#20c020','#e020e0']);
plot('fig2-halpha-spectra',c2[0],348,180,194,[-86,86],[0.8,7.3],f2HaYTicks,0,[[f2HaRef,'#111','5,3','reference'],[f2HaRP3,'#e020e0','','rp3'],[f2HaRP2,'#20c020','','rp2'],[f2HaRP1,'#2030e0','','rp1'],[f2HaRP0,'#e02020','','rp0'],[f2HaDiff,'#e020e0','2,2','difference']],{title:'H \u03b1',xlabel:1,ylabel:'I_counts[\u00d71000]',vline:-38.6});
plot('fig2-cak-spectra',c2[1],348,180,194,[-86,86],[0.095,0.31],f2CaYTicks,2,[[f2CaRef,'#111','5,3','reference'],[f2CaRP3,'#e020e0','','rp3'],[f2CaRP2,'#20c020','','rp2'],[f2CaRP1,'#2030e0','','rp1'],[f2CaRP0,'#e02020','','rp0'],[f2CaDiff,'#e020e0','2,2','difference']],{title:'Ca II K',xlabel:1,vline:-38.6});
plot('fig2-mgk-spectra',c2[2],348,180,194,[-86,86],[0,0.29],f2MgYTicks,2,[[f2MgRef,'#111','5,3','reference'],[f2MgRP2,'#20c020','','rp2'],[f2MgRP1,'#2030e0','','rp1'],[f2MgRP0,'#e02020','','rp0']],{title:'Mg II k',xlabel:1});
['#ff0000','#0000ff','#00e000','#ff00ff'].forEach((c,i)=>{ const r=mk('rect',{x:2444,y:227+i*50,width:10,height:50,fill:c});
  
  
  txt(String(i),2458,255+i*50,9,'start'); });
mk('rect',{x:2444,y:227,width:10,height:200,fill:'none',stroke:'#444'});
txt('RP Index No.',2446,222,10.5,'middle');

const c3=[2634,2855,3078];
spectroRow('fig3',c3,115,'10:27:55 UT','10:27:57 UT',['CRISP H \u03b1 +41 km s\u207b\u00b9','CHROMIS Ca II K +20 km s\u207b\u00b9','IRIS SJI 2796'],['#f0a030','#d62020','#2030e0','#20c020','#e020e0']);
plot('fig3-halpha-spectra',c3[0],348,180,196,[-86,86],[0.8,7.3],f2HaYTicks,0,[[f3HaRef,'#111','5,3','reference'],[f3HaRP8,'#e020e0','','rp8'],[f3HaRP7,'#20c020','','rp7'],[f3HaRP6,'#2030e0','','rp6'],[f3HaRP5,'#e02020','','rp5'],[f3HaRP4,'#f0a030','','rp4'],[f3HaDiff,'#e020e0','2,2','difference']],{title:'H \u03b1',xlabel:1,ylabel:'I_counts[\u00d71000]',vline:40});
plot('fig3-cak-spectra',c3[1],348,180,196,[-86,86],[0.09,0.425],f3CaYTicks,2,[[f3CaRef,'#111','5,3','reference'],[f3CaRP8,'#e020e0','','rp8'],[f3CaRP7,'#20c020','','rp7'],[f3CaRP6,'#2030e0','','rp6'],[f3CaRP5,'#e02020','','rp5'],[f3CaRP4,'#f0a030','','rp4'],[f3CaDiff,'#e020e0','2,2','difference']],{title:'Ca II K',xlabel:1,vline:40});
plot('fig3-mgk-spectra',c3[2],348,180,196,[-86,86],[-0.005,0.41],f3MgYTicks,2,[[f3MgRef,'#111','5,3','reference'],[f3MgRP6,'#2030e0','','rp6'],[f3MgRP4,'#f0a030','','rp4'],[f3MgRP5,'#e02020','','rp5']],{title:'Mg II k',xlabel:1});
['#ffa500','#ff0000','#0000ff','#00e000','#ff00ff'].forEach((c,i)=>{ const r=mk('rect',{x:3292,y:229+i*40,width:10,height:40,fill:c});
  
  
  txt(String(i+4),3306,252+i*40,9,'start'); });
mk('rect',{x:3292,y:229,width:10,height:200,fill:'none',stroke:'#444'});
txt('RP Index No.',3295,224,10.5,'middle');

// ===== Figure 4 =====
const f4x=3517, f4y=106, f4w=104, f4h=97;
txt('RBE',f4x+f4w/2,f4y-12,13,'middle'); txt('RRE',f4x+f4w*1.5,f4y-12,13,'middle');
for(let r=0;r<4;r++){ for(let c=0;c<2;c++){
  const x=f4x+c*f4w, y=f4y+r*f4h;
  const bgc=r==0?'#a8a8a8':'#4a4a4a';
  const g=image('fig4-cell-r'+r+'-c'+c,x,y,f4w,f4h,{bg:bgc,tex:r==0?['#6a6a6a','#d8d8d8','#888']:['#222','#bbb','#888','#ddd'],n:170,rot:-35});
  const sx=i=>x+8+i*(c?8:7), sy=v=>y+8+(1-v)*35;
  const dm=f4Median.map((v,i)=>(i?'L':'M')+sx(i)+','+sy(v)).join('');
  mk('path',{d:dm,fill:'none',stroke:'#3a8fd0','stroke-width':2},g);
  const prof=c?f4Rre:f4Rbe;
  const dr=prof.map((v,i)=>(i?'L':'M')+sx(i)+','+sy(v)).join('');
  const rp=mk('path',{d:dr,fill:'none',stroke:'#e01818','stroke-width':2},g);
  
  
  mk('circle',{cx:sx(c?5:4),cy:sy(prof[c?5:4]),r:4,fill:'#3a0a0a',stroke:'#ccc'},g);
  txt('+',x+(c?78:58),y+(c?33:45),14,'middle',g,{fill:'#e01818'});
  txt(f4Labels[r*2+c],x+4,y+f4h-10,10,'start',g,{fill:'#eee',stroke:'#444','stroke-width':0.3});
  }
  txt(f4Rows[r],0,0,12,'middle',null,{transform:'translate('+(f4x+2*f4w+18)+','+(f4y+r*f4h+f4h/2)+') rotate(-90)'});
}
[0,2,4].forEach(v=>{ txt(String(v),f4x+v*25+2,f4y+4*f4h+17,12,'middle',null,{'font-family':'Liberation Serif'}); txt(String(v),f4x-8,f4y+4*f4h-v*23+4,12,'end',null,{'font-family':'Liberation Serif'}); });
txt('arcsec',f4x+f4w/2,f4y+4*f4h+40,11,'middle');
txt('arcsec',0,0,11,'middle',null,{transform:'translate('+(f4x-30)+','+(f4y+3.5*f4h)+') rotate(-90)'});
</script>
</body></html>
